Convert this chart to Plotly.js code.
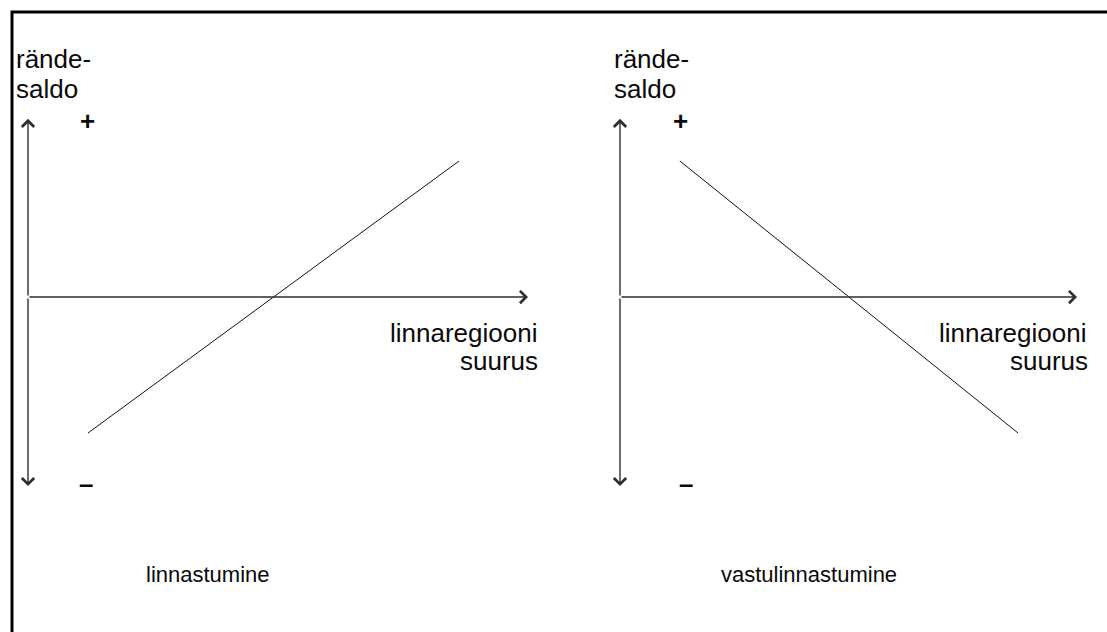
<!DOCTYPE html>
<html>
<head>
<meta charset="utf-8">
<script src="https://cdn.plot.ly/plotly-3.0.1.min.js"></script>
<style>
  body { margin: 0; background: #ffffff; }
  #chart { width: 1107px; height: 632px; }
</style>
</head>
<body>
<div id="chart"></div>
<script>
// schematic values: x = linnaregiooni suurus (0..10), y = rändesaldo (-1..+1)
var urbanSize = [1.2, 8.62];
var urbanSaldo = [-1, 1];
var counterSize = [1.31, 8.71];
var counterSaldo = [1, -1];

var sizeAxisEnd = 10;
var saldoTop = 1.31;
var saldoBottom = -1.39;

var panelTitles = ['linnastumine', 'vastulinnastumine'];
var yLabelLines = ['rände-', 'saldo'];
var xLabelLines = ['linnaregiooni', 'suurus'];
var signLabels = ['+', '–'];

var font = 'Arial, "Liberation Sans", sans-serif';
var axisColor = '#2e2e2e';

var data = [
    {
        x: urbanSize,
        y: urbanSaldo,
        xaxis: 'x',
        yaxis: 'y',
        type: 'scatter',
        mode: 'lines',
        hoverinfo: 'none',
        line: { color: '#111111', width: 1 }
    },
    {
        x: counterSize,
        y: counterSaldo,
        xaxis: 'x2',
        yaxis: 'y',
        type: 'scatter',
        mode: 'lines',
        hoverinfo: 'none',
        line: { color: '#111111', width: 1 }
    }
];

// arrows for the axes of one panel
function axisArrows(xr)
{
    var base = {
        text: '',
        showarrow: true,
        arrowhead: 4,
        arrowsize: 1.7,
        arrowwidth: 1.4,
        arrowcolor: axisColor,
        xref: xr, yref: 'y',
        axref: xr, ayref: 'y',
        ax: 0, ay: 0
    };
    return [
        Object.assign({}, base, { x: 0, y: saldoTop }),
        Object.assign({}, base, { x: 0, y: saldoBottom }),
        Object.assign({}, base, { x: sizeAxisEnd, y: 0 })
    ];
}

function label(xr, x, y, text, xanchor, extra)
{
    return Object.assign({
        xref: xr, yref: 'y',
        x: x, y: y,
        text: text,
        showarrow: false,
        xanchor: xanchor,
        yanchor: 'middle',
        font: { family: font, size: 26, color: '#0a0a0a' }
    }, extra || {});
}

var signFont = { family: font, size: 26, color: '#0a0a0a', weight: 'bold' };
var titleFont = { family: font, size: 22, color: '#0a0a0a' };

var annotations = []
    .concat(axisArrows('x'))
    .concat(axisArrows('x2'))
    .concat([
        label('x', -0.28, 1.75, yLabelLines[0], 'left'),
        label('x', -0.28, 1.529, yLabelLines[1], 'left'),
        label('x', 1.18, 1.294, signLabels[0], 'center', { font: signFont }),
        label('x', 1.16, -1.375, signLabels[1], 'center', { font: signFont }),
        label('x', 10.22, -0.265, xLabelLines[0], 'right'),
        label('x', 10.24, -0.47, xLabelLines[1], 'right'),
        label('x', 3.6, -2.04, panelTitles[0], 'center', { font: titleFont }),

        label('x2', -0.17, 1.75, yLabelLines[0], 'left'),
        label('x2', -0.17, 1.529, yLabelLines[1], 'left'),
        label('x2', 1.313, 1.294, signLabels[0], 'center', { font: signFont }),
        label('x2', 1.44, -1.375, signLabels[1], 'center', { font: signFont }),
        label('x2', 10.24, -0.265, xLabelLines[0], 'right'),
        label('x2', 10.28, -0.47, xLabelLines[1], 'right'),
        label('x2', 4.14, -2.04, panelTitles[1], 'center', { font: titleFont })
    ]);

var layout = {
    width: 1107,
    height: 632,
    margin: { l: 0, r: 0, t: 0, b: 0 },
    paper_bgcolor: '#ffffff',
    plot_bgcolor: '#ffffff',
    showlegend: false,
    xaxis: { domain: [0, 0.5], range: [-0.56, 10.51], visible: false, fixedrange: true },
    xaxis2: { domain: [0.5, 1], range: [-1.455, 10.656], visible: false, fixedrange: true },
    yaxis: { domain: [0, 1], range: [-2.463, 2.184], visible: false, fixedrange: true },
    annotations: annotations,
    shapes: [
        {
            type: 'rect',
            xref: 'paper', yref: 'paper',
            x0: 12 / 1107, x1: 1.02,
            y0: -0.02, y1: 1 - 12 / 632,
            line: { color: '#000000', width: 3 }
        }
    ]
};

Plotly.newPlot('chart', data, layout, { displayModeBar: false, staticPlot: true });
</script>
</body>
</html>
